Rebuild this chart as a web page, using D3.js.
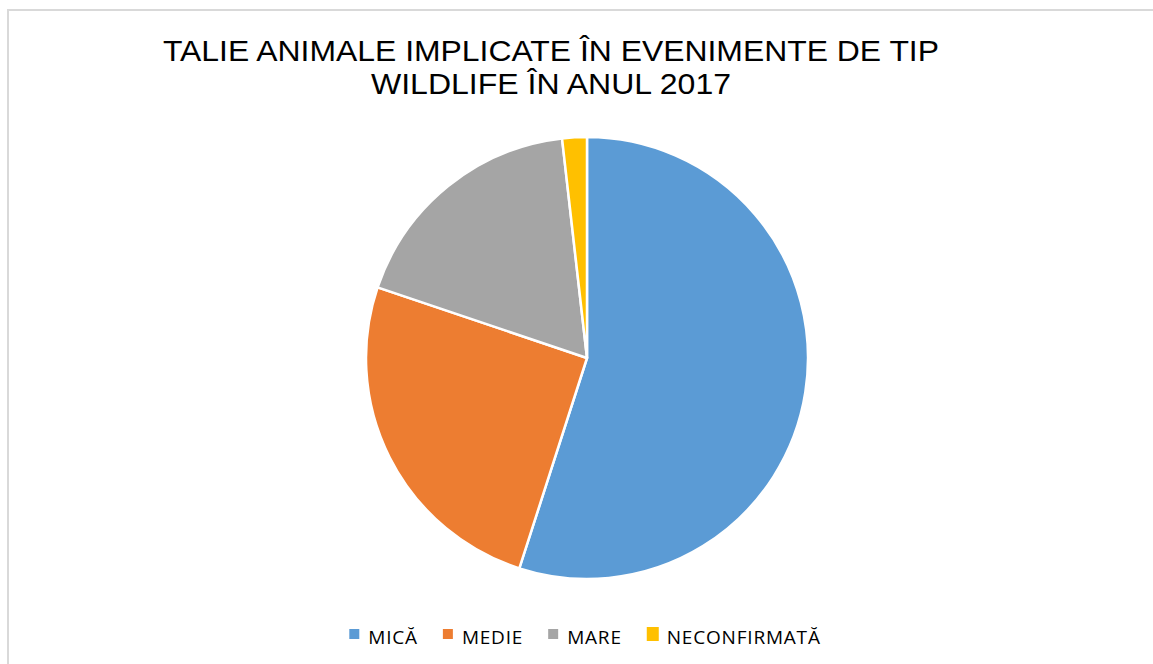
<!DOCTYPE html>
<html>
<head>
<meta charset="utf-8">
<script src="https://cdn.jsdelivr.net/npm/d3@7"></script>
<style>
  html, body { margin: 0; padding: 0; background: #fff; }
  svg { display: block; }
</style>
</head>
<body>
<svg id="chart" width="1153" height="664"></svg>
<script>
const categories = ["MICĂ", "MEDIE", "MARE", "NECONFIRMATĂ"];
const values = [61, 28, 20, 2];
const colors = ["#5B9BD5", "#ED7D31", "#A5A5A5", "#FFC000"];
const titleLines = ["TALIE ANIMALE IMPLICATE ÎN EVENIMENTE DE TIP", "WILDLIFE ÎN ANUL 2017"];

const svg = d3.select("#chart");
const W = 1153, H = 664;

svg.append("rect").attr("width", W).attr("height", H).attr("fill", "#fff");
// chart area border (only top and left visible; extends past viewport)
svg.append("rect")
  .attr("x", 8).attr("y", 10)
  .attr("width", W + 20).attr("height", H + 20)
  .attr("fill", "#fff").attr("stroke", "#d9d9d9").attr("stroke-width", 2);

// Title
const titleLens = [776, 360];
const title = svg.append("g");
titleLines.forEach((t, i) => {
  title.append("text")
    .attr("x", 551).attr("y", 61 + i * 32.5)
    .attr("text-anchor", "middle")
    .attr("font-family", "'Liberation Sans', Arial, sans-serif")
    .attr("font-size", 30)
    .attr("fill", "#000")
    .attr("textLength", titleLens[i])
    .attr("lengthAdjust", "spacingAndGlyphs")
    .text(t);
});

// Pie
const cx = 587, cy = 358, R = 221;
const data = categories.map((c, i) => ({ cat: c, value: values[i] }));
const pie = d3.pie().value(d => d.value).sort(null);
const arc = d3.arc().innerRadius(0).outerRadius(R);
const color = d3.scaleOrdinal().domain(categories).range(colors);

svg.append("g")
  .attr("transform", `translate(${cx},${cy})`)
  .selectAll("path")
  .data(pie(data))
  .join("path")
  .attr("d", arc)
  .attr("fill", d => color(d.data.cat))
  .attr("stroke", "#fff")
  .attr("stroke-width", 2.5)
  .attr("stroke-linejoin", "round");

// Legend
const legend = svg.append("g");
const items = legend.selectAll("g").data(categories).join("g");
items.append("rect")
  .attr("width", (d, i) => i === 3 ? 12 : 10)
  .attr("height", (d, i) => i === 3 ? 14 : 10)
  .attr("y", (d, i) => i === 3 ? -17 : -15)
  .attr("fill", d => color(d));
items.append("text")
  .attr("x", (d, i) => i === 3 ? 20 : 19)
  .attr("y", 0)
  .attr("font-family", "'Open Sans', 'Noto Sans', sans-serif")
  .attr("font-size", 19)
  .attr("letter-spacing", 0.8)
  .attr("fill", "#000")
  .text(d => d);

let x = 0;
const offs = [];
items.each(function (d, i) {
  const tw = this.querySelector("text").getComputedTextLength();
  offs.push(x);
  x += (i === 3 ? 20 : 19) + tw + 25;
});
const totalW = x - 25;
const startX = 585 - totalW / 2;
items.attr("transform", (d, i) => `translate(${startX + offs[i]},644)`);
</script>
</body>
</html>
